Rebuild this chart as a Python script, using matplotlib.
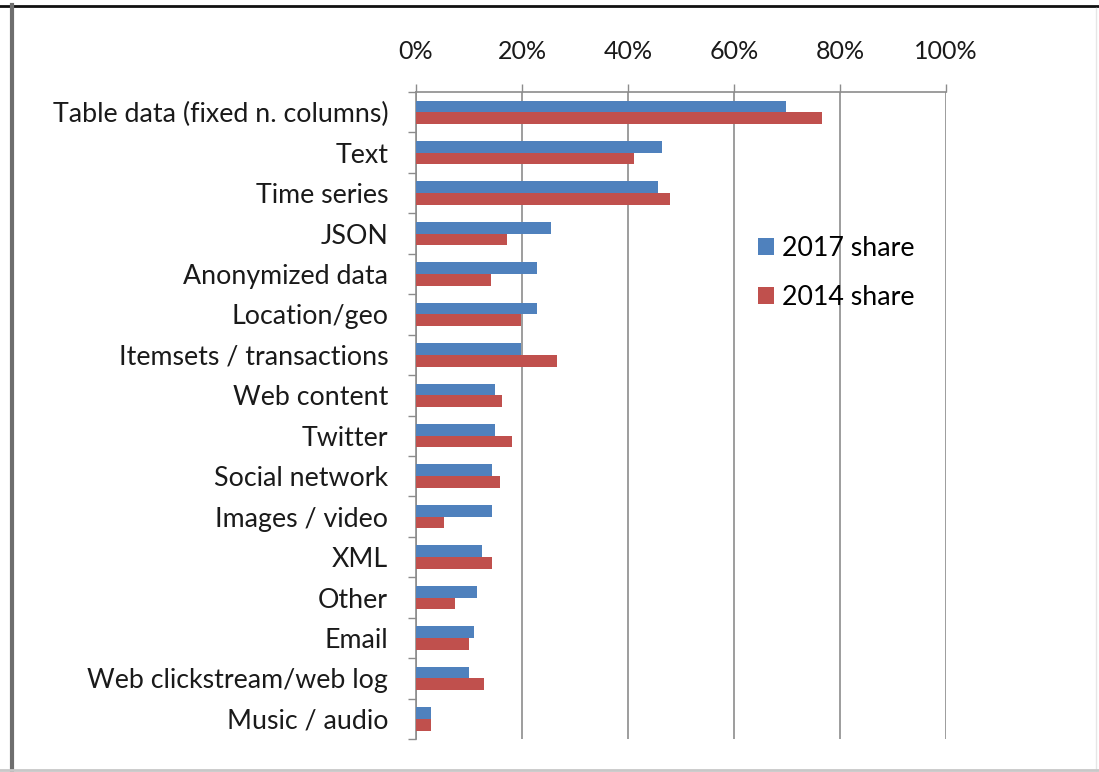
import numpy as np
import matplotlib.pyplot as plt
from matplotlib.lines import Line2D
from matplotlib.ticker import FixedLocator, PercentFormatter

# data types used, share of respondents (%)
categories = [
    "Table data (fixed n. columns)", "Text", "Time series", "JSON",
    "Anonymized data", "Location/geo", "Itemsets / transactions",
    "Web content", "Twitter", "Social network", "Images / video", "XML",
    "Other", "Email", "Web clickstream/web log", "Music / audio",
]
share_2017 = [69.8, 46.4, 45.6, 25.4, 22.8, 22.8, 19.9, 15.0,
              15.0, 14.3, 14.3, 12.4, 11.6, 10.9, 10.1, 2.9]
share_2014 = [76.7, 41.1, 47.9, 17.1, 14.1, 19.9, 26.6, 16.2,
              18.1, 15.8, 5.2, 14.3, 7.4, 10.1, 12.8, 2.9]
x_ticks = [0, 20, 40, 60, 80, 100]

BLUE = "#4F81BD"
RED = "#C0504D"
GRID = "#8C8C8C"
FONT = ["Lato", "DejaVu Sans"]

plt.rcParams["font.family"] = FONT

fig = plt.figure(figsize=(10.99, 7.72), dpi=100)
ax = fig.add_axes([0.3785, 0.0427, 0.4822, 0.8381])

y = np.arange(len(categories))
h = 0.29
ax.barh(y - h / 2, share_2017, height=h, color=BLUE, label="2017 share", zorder=3)
ax.barh(y + h / 2, share_2014, height=h, color=RED, label="2014 share", zorder=3)

ax.set_ylim(len(categories) - 0.5, -0.5)
ax.set_xlim(0, 100)

# category labels, with small ticks between the rows
ax.set_yticks(y)
ax.set_yticklabels(categories, fontsize=19.3, color="#1a1a1a")
ax.yaxis.set_minor_locator(FixedLocator(np.arange(-0.5, len(categories), 1)))
ax.tick_params(axis="y", which="major", length=0, pad=20)
ax.tick_params(axis="y", which="minor", length=6, color=GRID, width=1)

# percent axis on top
ax.xaxis.tick_top()
ax.set_xticks(x_ticks)
ax.xaxis.set_major_formatter(PercentFormatter(decimals=0))
ax.tick_params(axis="x", which="major", length=6, color=GRID, width=1,
               labelsize=18, pad=15, labelcolor="#1a1a1a")
ax.grid(axis="x", color=GRID, linewidth=1.2, zorder=0)

for side in ["right", "bottom"]:
    ax.spines[side].set_visible(False)
for side in ["top", "left"]:
    ax.spines[side].set_color(GRID)
    ax.spines[side].set_linewidth(1.2)

leg = ax.legend(loc="upper left", bbox_to_anchor=(0.6, 0.815), frameon=False,
                fontsize=19.3, handlelength=0.6, handleheight=0.6,
                handletextpad=0.3, labelspacing=0.9)

# outer frame around the chart
fig.add_artist(Line2D([0, 1], [0.9925, 0.9925], color="#111111", linewidth=2,
                      transform=fig.transFigure))
fig.add_artist(Line2D([0.0105, 0.0105], [0, 0.993], color="#6e6e6e", linewidth=3,
                      transform=fig.transFigure))
fig.add_artist(Line2D([0.9975, 0.9975], [0, 0.99], color="#e6e6e6", linewidth=1,
                      transform=fig.transFigure))
fig.add_artist(Line2D([0, 1], [0.003, 0.003], color="#c8c8c8", linewidth=2,
                      transform=fig.transFigure))

fig.savefig("out.png", dpi=100)
